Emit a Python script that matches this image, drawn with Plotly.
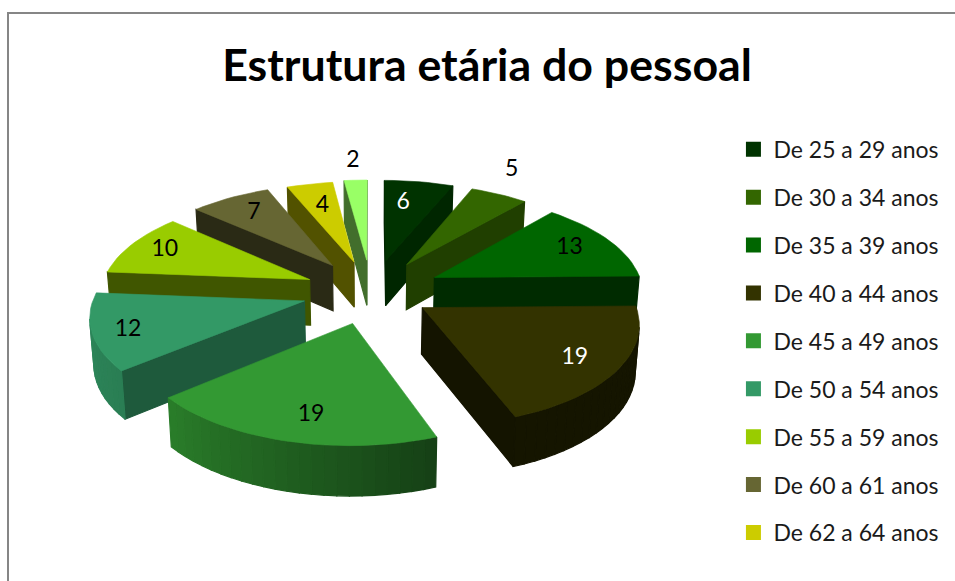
import numpy as np
import plotly.graph_objects as go

# --- data ---
categories = ["De 25 a 29 anos", "De 30 a 34 anos", "De 35 a 39 anos", "De 40 a 44 anos",
              "De 45 a 49 anos", "De 50 a 54 anos", "De 55 a 59 anos", "De 60 a 61 anos",
              "De 62 a 64 anos", ""]
values = [6, 5, 13, 19, 19, 12, 10, 7, 4, 2]
title = "Estrutura etária do pessoal"

# --- styling ---
colors = ["#003300", "#336600", "#006600", "#333300", "#339933",
          "#339966", "#99CC00", "#666633", "#CCCC00", "#99FF66"]
face_shade = [.75, .62, .42, .40, .40, .59, .42, .41, .40, .43]
label_colors = ["white", "black", "black", "white", "black",
                "black", "black", "black", "black", "black"]
label_r = [.70, 1.34, .77, .80, .79, .84, .81, .75, .69, 1.27]
label_da = [-3, -4, 0, 1, -3, -2, 0, 0, 0, 0]
nudge_x = [3, 2, 3, -6, 1, 1, 2, 1, 1, 1]
nudge_y = [0, 0, 0, -2, 0, 0, 1, 0, 1, 0]

# --- projection of the exploded 3-D pie ---
CX, CY, A, B, P, EXPL, DEPTH = 370, 291, 209, 97.6, .127, .33, 46


def project(X, Y):
    s = 1 / (1 + P * Y)
    return CX + A * X * s, CY - B * Y * s, s


def bottom(X, Y):
    x, y, s = project(X, Y)
    return CX + (x - CX) * .985, y + DEPTH * np.sqrt(s)


def shade(c, f):
    r, g, b = int(c[1:3], 16), int(c[3:5], 16), int(c[5:7], 16)
    return f"rgb({r * f:.0f},{g * f:.0f},{b * f:.0f})"


def poly(pts, color, dx, dy, lw=1.2):
    xs = [p[0] + dx for p in pts] + [pts[0][0] + dx]
    ys = [p[1] + dy for p in pts] + [pts[0][1] + dy]
    return go.Scatter(x=xs, y=ys, mode="lines", fill="toself", fillcolor=color,
                      line=dict(color=color, width=lw), hoverinfo="skip", showlegend=False)


total = sum(values)
edges = np.concatenate([[0], np.cumsum(values)]) / total * 360.0
mids = (edges[:-1] + edges[1:]) / 2
order = np.argsort(-np.cos(np.radians(mids)))

fig = go.Figure()
for i in order:
    a0, a1, m = edges[i], edges[i + 1], mids[i]
    mr = np.radians(m)
    ox, oy = EXPL * np.sin(mr), EXPL * np.cos(mr)
    th = np.radians(np.linspace(a0, a1, max(2, int((a1 - a0) / 3) + 2)))
    path = [(ox, oy)] + [(ox + np.sin(t), oy + np.cos(t)) for t in th]
    loop = path + [path[0]]
    c = colors[i]
    dx, dy = nudge_x[i], nudge_y[i]
    # side faces: drawn where the outline runs leftwards on screen
    for k in range(len(loop) - 1):
        p, q = loop[k], loop[k + 1]
        px, py, _ = project(*p)
        qx, qy, _ = project(*q)
        if qx - px >= 0:
            continue
        radial = k == 0 or k == len(loop) - 2
        if radial:
            f = face_shade[i]
        else:
            ang = np.degrees(th[k - 1] + th[k]) / 2
            f = float(np.interp(ang, [90, 160, 195, 230, 275], [.40, .42, .62, .82, .90]))
        fig.add_trace(poly([(px, py), (qx, qy), bottom(*q), bottom(*p)], shade(c, f), dx, dy))
    # top face
    fig.add_trace(poly([project(*p)[:2] for p in path], c, dx, dy, .6))

# data labels
for i in range(len(values)):
    mr = np.radians(mids[i])
    t = np.radians(mids[i] + label_da[i])
    X = EXPL * np.sin(mr) + label_r[i] * np.sin(t)
    Y = EXPL * np.cos(mr) + label_r[i] * np.cos(t)
    x, y, _ = project(X, Y)
    fig.add_trace(go.Scatter(x=[x + nudge_x[i]], y=[y + nudge_y[i]], mode="text",
                             text=[str(values[i])],
                             textfont=dict(family="Lato", size=23, color=label_colors[i]),
                             hoverinfo="skip", showlegend=False))

# legend entries
for i in range(9):
    fig.add_trace(go.Scatter(x=[None], y=[None], mode="markers", name=categories[i],
                             legendgroup=str(i),
                             marker=dict(symbol="square", size=15, color=colors[i])))

fig.update_layout(
    width=955, height=581,
    margin=dict(l=0, r=0, t=0, b=0),
    paper_bgcolor="white", plot_bgcolor="white",
    title=dict(text=f"<b>{title}</b>", x=.51, xanchor="center", y=.887, yanchor="middle",
               font=dict(family="Lato", size=44.7, color="black")),
    xaxis=dict(range=[0, 955], visible=False, fixedrange=True),
    yaxis=dict(range=[581, 0], visible=False, fixedrange=True),
    legend=dict(x=.768, xanchor="left", y=.78, yanchor="top",
                font=dict(family="Lato", size=23, color="#1a1a1a"),
                tracegroupgap=15, itemwidth=30, bgcolor="rgba(0,0,0,0)"),
    shapes=[dict(type="rect", xref="x", yref="y", x0=8, y0=13, x1=975, y1=600,
                 line=dict(color="#868686", width=2), layer="above")],
)
fig.write_html("out.html", post_script="document.body.style.margin='0';",
               config={"displayModeBar": False})
